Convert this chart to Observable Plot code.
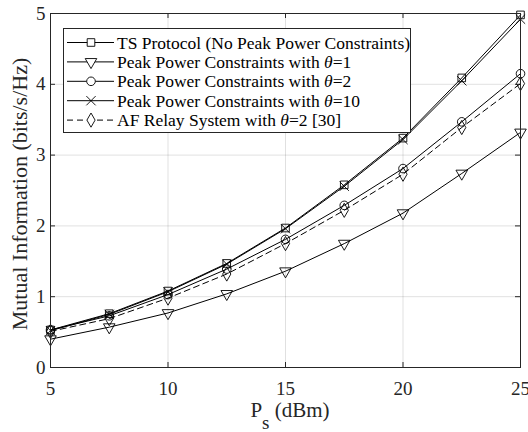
<!DOCTYPE html>
<html>
<head>
<meta charset="utf-8">
<script src="https://cdn.jsdelivr.net/npm/d3@7"></script>
<script src="https://cdn.jsdelivr.net/npm/@observablehq/plot@0.6"></script>
<style>
  html, body { margin: 0; padding: 0; background: #fff; }
  #chart svg { display: block; }
  #chart svg, #chart svg text { font-family: "Liberation Serif", "DejaVu Serif", serif !important; }
</style>
</head>
<body>
<div id="chart"></div>
<script>
// ---- data ----
const ps = [5, 7.5, 10, 12.5, 15, 17.5, 20, 22.5, 25];
const tsProtocol = [0.53, 0.76, 1.08, 1.47, 1.97, 2.58, 3.24, 4.09, 4.98];
const theta1     = [0.40, 0.57, 0.77, 1.04, 1.36, 1.75, 2.18, 2.74, 3.32];
const theta2     = [0.53, 0.73, 1.03, 1.39, 1.81, 2.29, 2.81, 3.47, 4.15];
const theta10    = [0.52, 0.75, 1.07, 1.46, 1.96, 2.56, 3.22, 4.05, 4.92];
const afRelay    = [0.51, 0.69, 0.98, 1.32, 1.75, 2.22, 2.73, 3.39, 4.01];

const seriesNames = [
  "TS Protocol (No Peak Power Constraints)",
  "Peak Power Constraints with θ=1",
  "Peak Power Constraints with θ=2",
  "Peak Power Constraints with θ=10",
  "AF Relay System with θ=2 [30]"
];
const seriesValues = [tsProtocol, theta1, theta2, theta10, afRelay];
const seriesSymbols = ["square", "triangle", "circle", "times", "diamond"];
const seriesRotate = [0, 180, 0, 0, 0];
const seriesDash = [null, null, null, null, "6,4"];

const xTicks = [5, 10, 15, 20, 25];
const yTicks = [0, 1, 2, 3, 4, 5];
const xLabelMain = "P";
const xLabelSub = "s";
const xLabelRest = " (dBm)";
const yLabel = "Mutual Information (bits/s/Hz)";

// ---- build ----
const W = 528, H = 432;
const mL = 50, mR = 8, mT = 13, mB = 65;
const innerH = H - mT - mB;
const innerW = W - mL - mR;
const axisColor = "#262626";
const R = 4.3;
const font = "Liberation Serif";

const tables = seriesValues.map((vals, i) =>
  ps.map((p, j) => ({x: p, y: vals[j], s: seriesNames[i]})));

const marks = [
  Plot.gridX(xTicks, {stroke: "#000", strokeOpacity: 0.12}),
  Plot.gridY(yTicks, {stroke: "#000", strokeOpacity: 0.12}),
  // inward ticks on all four sides
  Plot.tickX(xTicks, {x: d => d, insetTop: innerH - 5, stroke: axisColor}),
  Plot.tickX(xTicks, {x: d => d, insetBottom: innerH - 5, stroke: axisColor}),
  Plot.tickY(yTicks, {y: d => d, insetRight: innerW - 5, stroke: axisColor}),
  Plot.tickY(yTicks, {y: d => d, insetLeft: innerW - 5, stroke: axisColor}),
  Plot.axisX({ticks: xTicks, tickSize: 0, tickPadding: 13.5, fontSize: 19, label: null,
    color: axisColor, tickFormat: d3.format("d")}),
  Plot.axisY({ticks: yTicks, tickSize: 0, tickPadding: 5, fontSize: 19, label: null,
    color: axisColor, tickFormat: d3.format("d")})
];
tables.forEach((t, i) => {
  marks.push(Plot.line(t, {x: "x", y: "y", stroke: "#000", strokeWidth: 1,
    strokeDasharray: seriesDash[i] || undefined}));
});
tables.forEach((t, i) => {
  marks.push(Plot.dot(t, {x: "x", y: "y", symbol: () => seriesSymbols[i], r: R,
    stroke: "#000", fill: "none", strokeWidth: 0.9, rotate: seriesRotate[i]}));
});
marks.push(Plot.frame({stroke: axisColor}));

const svg = Plot.plot({
  width: W, height: H,
  marginLeft: mL, marginRight: mR, marginTop: mT, marginBottom: mB,
  x: {domain: [5, 25]},
  y: {domain: [0, 5]},
  symbol: {type: "identity"},
  style: {fontFamily: font, background: "#fff", overflow: "visible"},
  marks
});
document.getElementById("chart").appendChild(svg);

const root = d3.select(svg);

// axis labels
const xl = root.append("text")
  .attr("x", (mL + W - mR) / 2 + 5).attr("y", 417)
  .attr("text-anchor", "middle").attr("font-size", 21).attr("fill", axisColor);
xl.append("tspan").text(xLabelMain);
xl.append("tspan").attr("dy", 12).attr("font-size", 19).text(xLabelSub);
xl.append("tspan").attr("dy", -12).text(xLabelRest);

root.append("text")
  .attr("transform", `translate(27,194) rotate(-90)`)
  .attr("text-anchor", "middle").attr("font-size", 22).attr("fill", axisColor)
  .text(yLabel);

// legend
const lg = root.append("g");
lg.append("rect").attr("x", 63.5).attr("y", 28.5).attr("width", 347).attr("height", 104)
  .attr("fill", "#fff").attr("stroke", axisColor).attr("stroke-width", 1);
const symMap = {square: d3.symbolSquare, triangle: d3.symbolTriangle, circle: d3.symbolCircle,
  times: d3.symbolTimes, diamond: d3.symbolDiamond};
seriesNames.forEach((name, i) => {
  const cy = 42.5 + i * 19.4;
  lg.append("line").attr("x1", 67).attr("x2", 114).attr("y1", cy).attr("y2", cy)
    .attr("stroke", "#000").attr("stroke-width", 1)
    .attr("stroke-dasharray", seriesDash[i]);
  lg.append("path").attr("d", d3.symbol(symMap[seriesSymbols[i]], Math.PI * R * R)())
    .attr("transform", `translate(91,${cy}) rotate(${seriesRotate[i]})`)
    .attr("fill", seriesSymbols[i] === "times" ? "none" : "#fff")
    .attr("stroke", "#000").attr("stroke-width", 0.9);
  const t = lg.append("text").attr("x", 117).attr("y", cy + 6)
    .attr("text-anchor", "start")
    .attr("font-size", 17.5).attr("fill", "#000");
  const parts = name.split("θ");
  t.append("tspan").text(parts[0]);
  if (parts.length > 1) {
    t.append("tspan").attr("font-style", "italic").text("θ");
    t.append("tspan").text(parts[1]);
  }
});
</script>
</body>
</html>
